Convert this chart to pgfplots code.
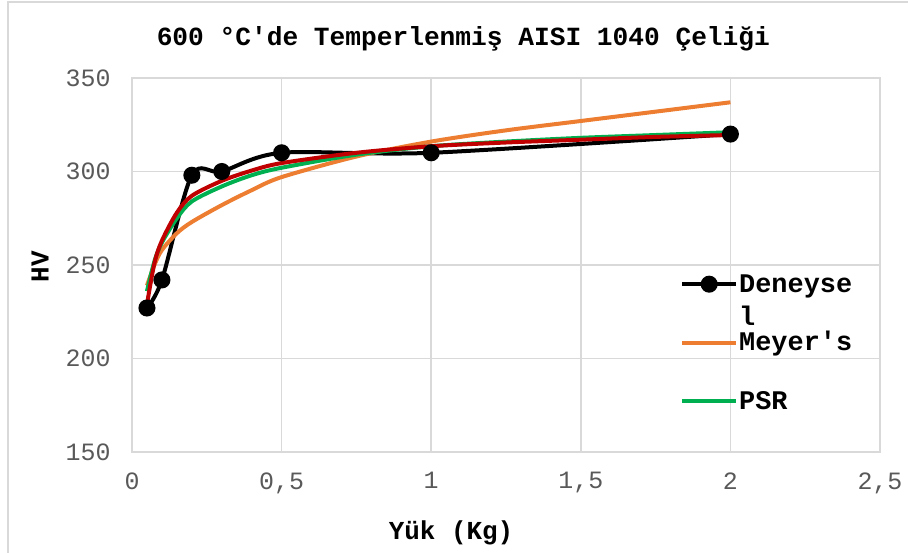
\documentclass[border=0pt]{standalone}
\usepackage{pgfplots}
\pgfplotsset{compat=1.18}
\usepackage{fontspec}
\setmainfont{Liberation Mono}
\definecolor{cBlack}{HTML}{000000}
\definecolor{cOrange}{HTML}{ED7D31}
\definecolor{cGreen}{HTML}{00B050}
\definecolor{cRed}{HTML}{C00000}
\definecolor{cGrid}{HTML}{D9D9D9}
\definecolor{cTick}{HTML}{595959}
\begin{document}
\begin{tikzpicture}[x=1bp,y=1bp]
\useasboundingbox (0,0) rectangle (908,553);
\draw[color=cGrid, line width=1.5bp] (8,-20) rectangle (940,551);
\begin{axis}[
  at={(132bp,101bp)}, anchor=south west,
  scale only axis, width=748bp, height=374bp,
  xmin=0, xmax=2.5, ymin=150, ymax=350,
  xtick={0,0.5,1,1.5,2,2.5}, ytick={150,200,250,300,350},
  grid=major, grid style={line width=1.5bp, color=cGrid},
  axis line style={line width=1.5bp, color=cGrid},
  major tick length=0pt,
  /pgf/number format/assume math mode=true,
  /pgf/number format/use comma,
  ticklabel style={font=\fontsize{25}{29}\selectfont, text=cTick},
  xticklabel style={yshift=-17bp},
  yticklabel style={xshift=-18bp},
  title={\textbf{600 °C\textquotesingle de Temperlenmiş AISI 1040 Çeliği}},
  title style={font=\fontsize{26.3}{30}\selectfont, at={(axis description cs:0.443,1)}, anchor=center, yshift=33bp},
  xlabel={\textbf{Yük (Kg)}},
  xlabel style={font=\fontsize{26}{30}\selectfont, at={(axis description cs:0.4265,-0.2166)}, anchor=center},
  ylabel={\textbf{HV}},
  ylabel style={font=\fontsize{26}{30}\selectfont, at={(axis description cs:-0.123,0.495)}, anchor=center, rotate=0},
  legend style={draw=none, fill=none, at={(axis description cs:0.7326,0.4813)}, anchor=north west,
    inner sep=0pt, column sep=1bp, row sep=0bp,
    font=\fontsize{27}{30}\selectfont\bfseries,
    cells={anchor=base west},
    nodes={inner sep=0pt, text height=20bp, text depth=38.5bp, anchor=base west}},
  legend image code/.code={\draw[#1, mark repeat=2, mark phase=2] plot coordinates {(0bp,8bp) (27bp,8bp) (54bp,8bp)};},
]
\addplot[color=cBlack, line width=4bp, smooth, tension=0.5, mark=*, mark size=6.5bp, mark options={fill=cBlack}] coordinates {
(0.05,227) (0.1,242) (0.2,298) (0.3,300) (0.5,310) (1,310) (2,320)};
\addlegendentry{\parbox[t]{6cm}{Deneyse\\[3bp]l}}
\addplot[color=cOrange, line width=4bp, smooth] coordinates {
(0.05,239) (0.075,250) (0.1,258) (0.15,267) (0.2,273) (0.3,282) (0.4,290) (0.5,297) (0.75,308) (1,316) (1.25,322) (1.5,327) (1.75,332) (2,337)};
\addlegendentry{Meyer\textquotesingle s}
\addplot[color=cGreen, line width=4bp, smooth] coordinates {
(0.05,236) (0.075,252) (0.1,262) (0.15,275) (0.2,284) (0.3,292) (0.4,298) (0.5,302) (0.75,309) (1,313.5) (1.25,316) (1.5,318) (1.75,319.5) (2,321)};
\addlegendentry{PSR}
\addplot[color=cRed, line width=4bp, smooth, forget plot] coordinates {
(0.05,229) (0.075,251) (0.1,263) (0.15,278) (0.2,287) (0.3,295) (0.4,300.5) (0.5,304.5) (0.75,310) (1,313.5) (1.25,315.5) (1.5,317) (1.75,318.5) (2,319.5)};
\end{axis}
\end{tikzpicture}
\end{document}
